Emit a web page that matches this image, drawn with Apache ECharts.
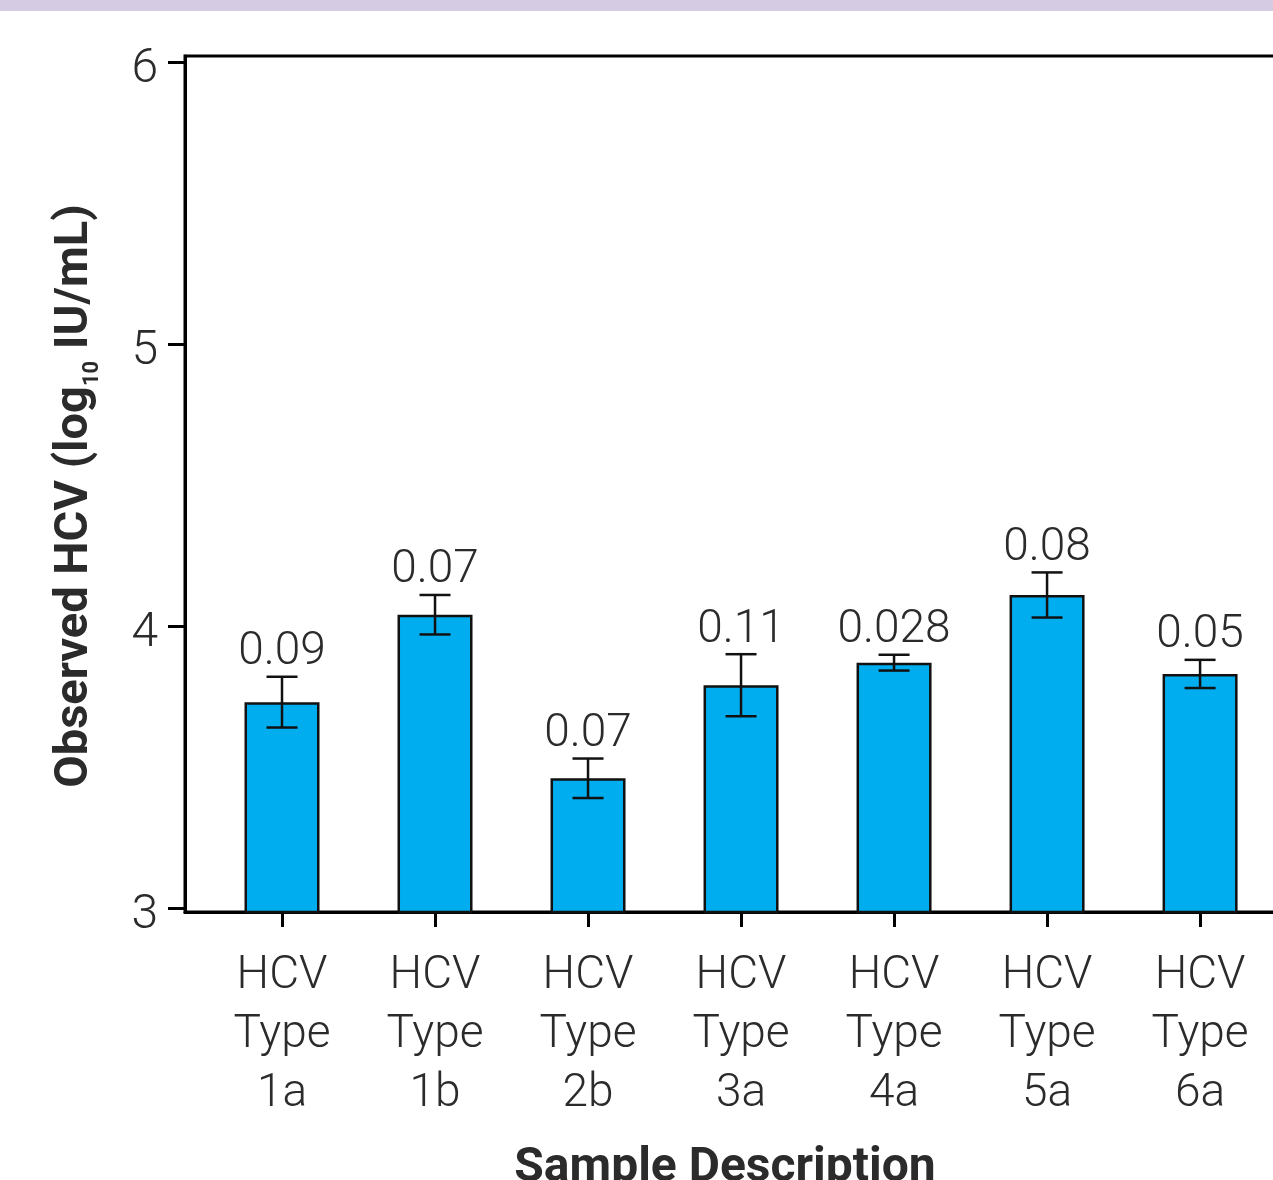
<!DOCTYPE html>
<html>
<head>
<meta charset="utf-8">
<title>Observed HCV by genotype</title>
<script src="https://cdn.jsdelivr.net/npm/echarts@6/dist/echarts.min.js"></script>
<style>
  html, body { margin: 0; padding: 0; background: #fff; }
  #chart { width: 1273px; height: 1180px; }
</style>
</head>
<body>
<div id="chart"></div>
<script>
// values
var categories = ['HCV Type 1a', 'HCV Type 1b', 'HCV Type 2b', 'HCV Type 3a', 'HCV Type 4a', 'HCV Type 5a', 'HCV Type 6a'];
var observedLog = [3.73, 4.04, 3.46, 3.79, 3.87, 4.11, 3.83];
var stdDev = [0.09, 0.07, 0.07, 0.11, 0.028, 0.08, 0.05];
var yTicks = [3, 4, 5, 6];

var TEXT = '#2b2b2b';
var LIGHT = 'Roboto, "Noto Sans", sans-serif';

var positions = categories.map(function(c, i) { return i; });

var chart = echarts.init(document.getElementById('chart'));

var option = {
  animation: false,
  backgroundColor: '#fff',
  graphic: [{
    type: 'rect',
    left: 0,
    top: 0,
    shape: {width: 1273, height: 11},
    style: {fill: '#d5cbe3'},
  }],
  grid: {
    left: 185,
    top: 56,
    right: -10,
    bottom: 268,
    outerBoundsMode: 'none',
    containLabel: false,
    show: true,
    borderColor: '#000',
    borderWidth: 3,
  },
  xAxis: {
    type: 'value',
    min: -0.634,
    max: 6.542,
    splitLine: {show: false},
    axisLine: {show: true, onZero: false, lineStyle: {color: '#000', width: 3}},
    axisTick: {
      show: true,
      customValues: positions,
      length: 15,
      lineStyle: {color: '#000', width: 3},
    },
    axisLabel: {
      customValues: positions,
      margin: 35,
      formatter: function(v) {
        return categories[Math.round(v)].split(' ').join('\n');
      },
      fontSize: 46,
      lineHeight: 59,
      color: TEXT,
      fontFamily: LIGHT,
      fontWeight: 300,
      align: 'center',
    },
    name: 'Sample Description',
    nameLocation: 'middle',
    nameGap: 233,
    nameTextStyle: {
      fontSize: 48,
      fontWeight: 'bold',
      fontFamily: 'Roboto, sans-serif',
      color: TEXT,
      padding: [0, 18, 0, 0],
    },
  },
  yAxis: {
    type: 'value',
    min: 2.9858,
    max: 6.0213,
    splitLine: {show: false},
    axisLine: {show: true, onZero: false, lineStyle: {color: '#000', width: 3}},
    axisTick: {
      show: true,
      customValues: yTicks,
      length: 17,
      lineStyle: {color: '#000', width: 3},
    },
    axisLabel: {
      customValues: yTicks,
      margin: 27,
      formatter: function(v) {
        return '{t|' + v + '}';
      },
      rich: {
        t: {
          fontSize: 48,
          color: TEXT,
          fontFamily: LIGHT,
          fontWeight: 300,
          padding: [16, 0, 0, 0],
        },
      },
    },
    name: '{b|Observed HCV (log}{s|10}{b| IU/mL)}',
    nameLocation: 'middle',
    nameGap: 82,
    nameTextStyle: {
      color: TEXT,
      padding: [0, 24, 0, 0],
      rich: {
        b: {fontSize: 47, fontWeight: 'bold', fontFamily: 'Roboto, sans-serif', color: TEXT, lineHeight: 56},
        s: {fontSize: 22, fontWeight: 'bold', fontFamily: 'Roboto, sans-serif', color: TEXT, lineHeight: 23, verticalAlign: 'bottom'},
      },
    },
  },
  series: [
    {
      name: 'Observed',
      type: 'bar',
      barWidth: 75,
      data: observedLog.map(function(m, i) { return [i, m]; }),
      itemStyle: {color: '#00aeef', borderColor: '#111', borderWidth: 2.5},
      z: 2,
    },
    {
      name: 'SD',
      type: 'custom',
      z: 5,
      data: observedLog.map(function(m, i) { return [i, m, stdDev[i]]; }),
      renderItem: function(params, api) {
        var x = api.value(0);
        var mean = api.value(1);
        var sd = api.value(2);
        var hi = api.coord([x, mean + sd]);
        var lo = api.coord([x, mean - sd]);
        var cap = 15.5;
        var line = {stroke: '#111', lineWidth: 2.5};
        return {
          type: 'group',
          children: [
            {type: 'line', shape: {x1: hi[0], y1: hi[1], x2: lo[0], y2: lo[1]}, style: line},
            {type: 'line', shape: {x1: hi[0] - cap, y1: hi[1], x2: hi[0] + cap, y2: hi[1]}, style: line},
            {type: 'line', shape: {x1: lo[0] - cap, y1: lo[1], x2: lo[0] + cap, y2: lo[1]}, style: line},
            {
              type: 'text',
              x: hi[0],
              y: hi[1] - 1,
              style: {
                text: String(sd),
                fill: TEXT,
                fontSize: 46,
                fontFamily: LIGHT,
                fontWeight: 300,
                align: 'center',
                verticalAlign: 'bottom',
              },
            },
          ],
        };
      },
    },
  ],
};

chart.setOption(option);
</script>
</body>
</html>
